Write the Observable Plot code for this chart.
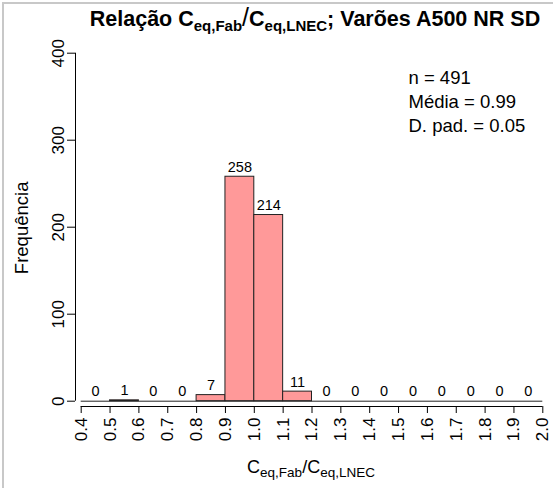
<!DOCTYPE html>
<html><head><meta charset="utf-8">
<script src="https://cdn.jsdelivr.net/npm/d3@7"></script>
<script src="https://cdn.jsdelivr.net/npm/@observablehq/plot@0.6"></script>
<style>
body{margin:0;background:#fff;}
#chart{position:relative;width:553px;height:488px;}
</style>
</head><body><div id="chart"></div>
<script>
// ---- data ----
const binStarts = [0.4,0.5,0.6,0.7,0.8,0.9,1.0,1.1,1.2,1.3,1.4,1.5,1.6,1.7,1.8,1.9];
const binWidth = 0.1;
const counts = [0,1,0,0,7,258,214,11,0,0,0,0,0,0,0,0];
const xTicks = [0.4,0.5,0.6,0.7,0.8,0.9,1.0,1.1,1.2,1.3,1.4,1.5,1.6,1.7,1.8,1.9,2.0];
const yTicks = [0,100,200,300,400];
const statsLines = ["n = 491","Média = 0.99","D. pad. = 0.05"];
const yLabel = "Frequência";
const titleParts = ["Relação C","eq,Fab","/","C","eq,LNEC","; Varões A500 NR SD"];
const xLabelParts = ["C","eq,Fab","/C","eq,LNEC"];

const bins = binStarts.map((s,i)=>({x1:s, x2:+(s+binWidth).toFixed(2), count:counts[i]}));
const xMin = binStarts[0], xMax = +(binStarts[binStarts.length-1]+binWidth).toFixed(2);

const font = "'Liberation Sans', Arial, sans-serif";
const W = 553, H = 488;

const plot = Plot.plot({
  width: W, height: H,
  marginLeft: 75, marginRight: 10.7, marginTop: 52.7, marginBottom: 82,
  style: {fontFamily: font, fontSize: "17px", background: "transparent", color: "#000", overflow: "visible"},
  x: {domain: [xMin, xMax], range: [80.7, 542.3]},
  y: {domain: [0, 400], range: [400.7, 52.7]},
  marks: [
    Plot.rectY(bins, {x1:"x1", x2:"x2", y1:0, y2:"count", fill:"#FF9999", stroke:"#222", strokeWidth:1}),
    Plot.ruleY([0], {x1: xMin, x2: xMax, stroke:"#222", strokeWidth:1}),
    Plot.text(bins, {x: d=>(d.x1+d.x2)/2, y:"count", text: d=>String(d.count), dy:-5, lineAnchor:"bottom", fontSize:14.5, fill:"#000"}),
    // y axis line
    Plot.ruleX([xMin], {y1: yTicks[0], y2: yTicks[yTicks.length-1], dx:-5.7, stroke:"#000"}),
    // x axis line
    Plot.ruleY([0], {x1: xMin, x2: xMax, dy:5.3, stroke:"#000"}),
    Plot.axisY(yTicks, {anchor:"left", tickSize:8, tickRotate:-90, tickPadding:4, label:null, fontSize:17, tickFormat: d=>String(d)}),
    Plot.axisX(xTicks, {anchor:"bottom", tickSize:7, tickRotate:-90, tickPadding:4, label:null, fontSize:17, tickFormat: d=>d.toFixed(1)}),
    Plot.text([yLabel], {frameAnchor:"left", text: d=>d, rotate:-90, dx:-53, dy:-2, fontSize:18.5, lineAnchor:"middle", textAnchor:"middle"}),
    Plot.text([statsLines.join("\n")], {frameAnchor:"top-left", text:d=>d, dx:333, dy:14, textAnchor:"start", lineAnchor:"top", lineHeight:1.3, fontSize:18.5})
  ]
});
document.getElementById("chart").appendChild(plot);

const svg = d3.select(plot);
// frame lines (left/top grey border)
svg.append("line").attr("x1",3).attr("x2",3).attr("y1",2).attr("y2",H).attr("stroke","#c8c8c8").attr("stroke-width",2);
svg.append("line").attr("x1",2).attr("x2",W).attr("y1",3).attr("y2",3).attr("stroke","#c8c8c8").attr("stroke-width",2);

// title
const t = svg.append("text").attr("x",315).attr("y",26).attr("text-anchor","middle")
  .attr("font-family",font).attr("font-weight","bold").attr("font-size",21.5).attr("fill","#000");
t.append("tspan").text(titleParts[0]);
t.append("tspan").attr("font-size",15).attr("dy",5).text(titleParts[1]);
t.append("tspan").attr("font-size",25).attr("font-weight","normal").attr("dy",-5).text(titleParts[2]);
t.append("tspan").text(titleParts[3]);
t.append("tspan").attr("font-size",15).attr("dy",5).text(titleParts[4]);
t.append("tspan").attr("dy",-5).text(titleParts[5]);

// x label
const xl = svg.append("text").attr("x",311).attr("y",473).attr("text-anchor","middle")
  .attr("font-family",font).attr("font-size",18).attr("fill","#000");
xl.append("tspan").text(xLabelParts[0]);
xl.append("tspan").attr("font-size",13.5).attr("dy",4).text(xLabelParts[1]);
xl.append("tspan").attr("dy",-4).text(xLabelParts[2]);
xl.append("tspan").attr("font-size",13.5).attr("dy",4).text(xLabelParts[3]);
</script>
</body></html>
